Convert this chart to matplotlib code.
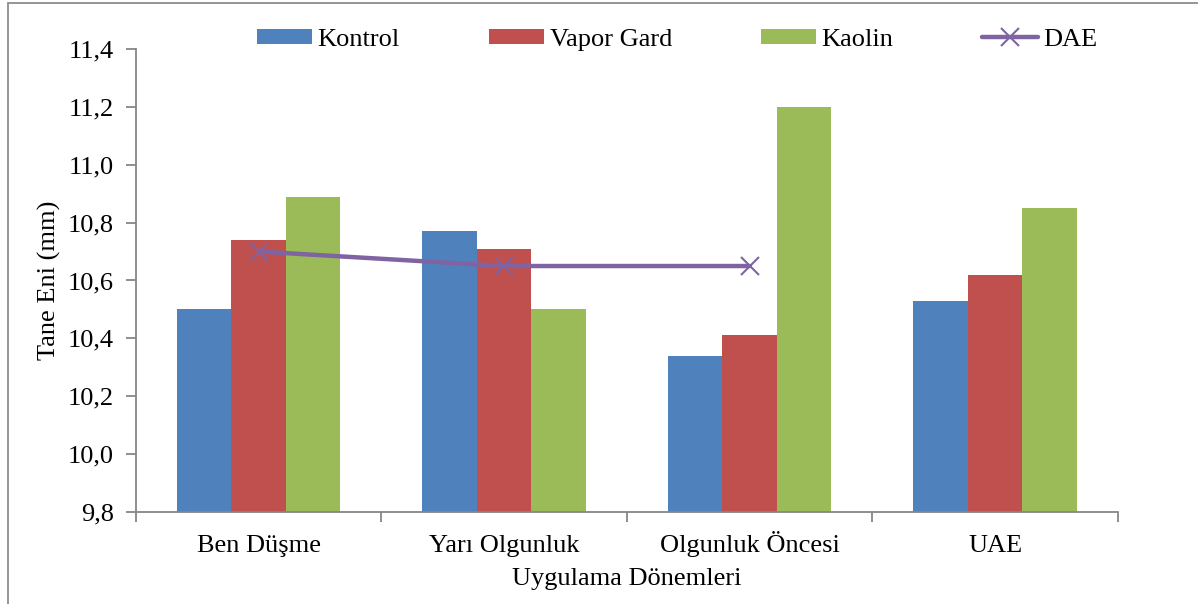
import numpy as np
import matplotlib.pyplot as plt
from matplotlib.ticker import FuncFormatter, FixedLocator
from matplotlib.patches import Rectangle

categories = ['Ben Düşme', 'Yarı Olgunluk', 'Olgunluk Öncesi', 'UAE']
kontrol = [10.50, 10.77, 10.34, 10.53]
vapor_gard = [10.74, 10.71, 10.41, 10.62]
kaolin = [10.89, 10.50, 11.20, 10.85]
dae = [10.70, 10.65, 10.65, np.nan]

plt.rcParams['font.family'] = ['Liberation Serif', 'DejaVu Serif']
plt.rcParams['font.size'] = 19

fig = plt.figure(figsize=(11.98, 6.04), dpi=100)
ax = fig.add_axes([0.1135, 0.1523, 0.8197, 0.7666])

# thin grey frame round the whole chart area
fig.patches.append(Rectangle((8 / 1198, -0.1), 1.2, 1.1 - 3 / 604,
                             transform=fig.transFigure, fill=False,
                             edgecolor='#8c8c8c', linewidth=1.3))

x = np.arange(len(categories))
w = 0.222
b1 = ax.bar(x - w, kontrol, w, color='#4F81BD', label='Kontrol', zorder=2)
b2 = ax.bar(x, vapor_gard, w, color='#C0504D', label='Vapor Gard', zorder=2)
b3 = ax.bar(x + w, kaolin, w, color='#9BBB59', label='Kaolin', zorder=2)
ln, = ax.plot(x, dae, color='#8064A2', linewidth=3.2, marker='x', markersize=13,
              markeredgewidth=1.5, solid_capstyle='round', label='DAE', zorder=3)

ax.set_xlim(-0.5, len(categories) - 0.5)
ax.set_ylim(9.8, 11.4)
ax.set_yticks(np.arange(9.8, 11.41, 0.2))
ax.yaxis.set_major_formatter(FuncFormatter(lambda v, p: f'{v:.1f}'.replace('.', ',')))

ax.set_xticks(x)
ax.set_xticklabels(categories, va='baseline')
ax.xaxis.set_minor_locator(FixedLocator(np.arange(-0.5, len(categories), 1.0)))
ax.tick_params(axis='x', which='major', length=0, pad=29)
ax.tick_params(axis='x', which='minor', length=7, width=1.3, color='#868686', direction='out')
ax.tick_params(axis='y', length=7, width=1.3, color='#868686', direction='out', pad=9)

for side in ['top', 'right']:
    ax.spines[side].set_visible(False)
for side in ['left', 'bottom']:
    ax.spines[side].set_color('#868686')
    ax.spines[side].set_linewidth(1.3)

ax.set_ylabel('Tane Eni (mm)', labelpad=5)
ax.set_xlabel('Uygulama Dönemleri', labelpad=8)

ax.legend([b1, b2, b3, ln], ['Kontrol', 'Vapor Gard', 'Kaolin', 'DAE'],
          ncol=4, loc='center', bbox_to_anchor=(0.551, 1.02), frameon=False,
          handlelength=2.1, handleheight=0.5, handletextpad=0.2, columnspacing=3.37,
          borderaxespad=0)

fig.savefig('out.png', dpi=100)
